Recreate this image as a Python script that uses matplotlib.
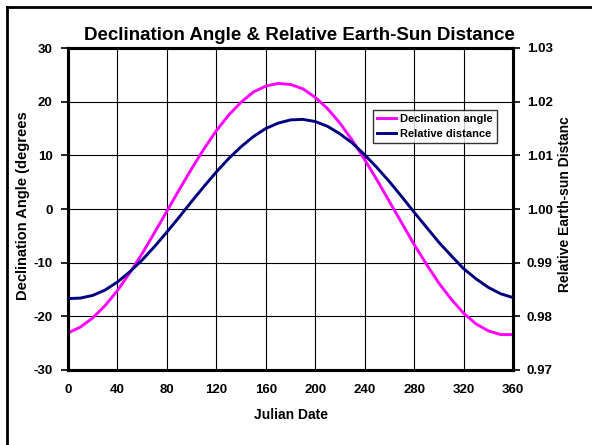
import matplotlib
matplotlib.use("Agg")
import matplotlib.pyplot as plt
from matplotlib.lines import Line2D

plt.rcParams['font.family'] = ['Liberation Sans', 'DejaVu Sans']
plt.rcParams['font.weight'] = 'bold'
plt.rcParams['axes.unicode_minus'] = False

julian_date = [0, 10, 20, 30, 40, 50, 60, 70, 80, 90, 100, 110, 120, 130, 140, 150, 160, 170, 180,
               190, 200, 210, 220, 230, 240, 250, 260, 270, 280, 290, 300, 310, 320, 330, 340, 350, 360]
declination = [-23.1, -22.0, -20.3, -18.0, -15.2, -11.9, -8.3, -4.4, -0.4, 3.6, 7.5, 11.2, 14.6, 17.5,
               19.9, 21.8, 22.9, 23.4, 23.2, 22.4, 20.8, 18.7, 16.0, 12.8, 9.2, 5.4, 1.4, -2.6, -6.6,
               -10.3, -13.8, -16.8, -19.4, -21.4, -22.7, -23.4, -23.4]
rel_distance = [0.9833, 0.9834, 0.9839, 0.9849, 0.9864, 0.9883, 0.9905, 0.9930, 0.9957, 0.9985,
                1.0014, 1.0042, 1.0069, 1.0094, 1.0116, 1.0135, 1.0150, 1.0160, 1.0166, 1.0167,
                1.0163, 1.0154, 1.0140, 1.0123, 1.0101, 1.0077, 1.0051, 1.0023, 0.9994, 0.9966,
                0.9938, 0.9913, 0.9889, 0.9870, 0.9854, 0.9842, 0.9835]

x_ticks = [0, 40, 80, 120, 160, 200, 240, 280, 320, 360]
left_ticks = [-30, -20, -10, 0, 10, 20, 30]
right_ticks = [0.97, 0.98, 0.99, 1.00, 1.01, 1.02, 1.03]

W, H = 592, 445
fig = plt.figure(figsize=(W / 100, H / 100), dpi=100)
ax = fig.add_axes([68 / W, 1 - 370 / H, (513 - 68) / W, (370 - 48) / H])
ax2 = ax.twinx()

magenta = '#ff00ff'
navy = '#000080'

ax.plot(julian_date, declination, color=magenta, lw=2.1, solid_capstyle='butt', zorder=3)
ax2.plot(julian_date, rel_distance, color=navy, lw=2.1, solid_capstyle='butt', zorder=3)

ax.set_xlim(0, 360)
ax.set_ylim(-30, 30)
ax2.set_ylim(0.97, 1.03)
ax.set_xticks(x_ticks)
ax.set_yticks(left_ticks)
ax2.set_yticks(right_ticks)
ax2.set_yticklabels([f"{v:.2f}" for v in right_ticks])

ax.grid(True, color='black', lw=0.8)
ax.set_axisbelow(True)

for a in (ax, ax2):
    for s in a.spines.values():
        s.set_linewidth(2.2)
        s.set_color('black')
ax.tick_params(axis='x', length=0, pad=10, labelsize=9.5)
ax.tick_params(axis='y', length=5, width=1.2, direction='out', pad=6, labelsize=9.5)
ax2.tick_params(axis='y', length=5, width=1.2, direction='out', pad=5, labelsize=9.5)
for lab in ax.get_xticklabels() + ax.get_yticklabels() + ax2.get_yticklabels():
    lab.set_fontweight('bold')

ax.set_xlabel('Julian Date', fontsize=10, fontweight='bold', labelpad=9)
fig.text(23 / W, 1 - 206 / H, 'Declination Angle (degrees', rotation=90, ha='center', va='center',
         fontsize=10.5, fontweight='bold')
fig.text(565 / W, 1 - 204 / H, 'Relative Earth-sun Distanc', rotation=90, ha='center', va='center',
         fontsize=10, fontweight='bold')
fig.text(299 / W, 1 - 35 / H, 'Declination Angle & Relative Earth-Sun Distance', ha='center',
         va='center', fontsize=13.5, fontweight='bold')

handles = [Line2D([], [], color=magenta, lw=2.1), Line2D([], [], color=navy, lw=2.1)]
leg = fig.legend(handles, ['Declination angle', 'Relative distance'], loc='upper left',
                 bbox_to_anchor=(373 / W, 1 - 110 / H), frameon=True, fancybox=False,
                 prop={'size': 8, 'weight': 'bold'}, handlelength=1.7, handletextpad=0.4,
                 borderpad=0.35, labelspacing=0.45, borderaxespad=0)
leg.get_frame().set_edgecolor('black')
leg.get_frame().set_linewidth(1.0)

# figure border lines (left and top)
fig.add_artist(Line2D([7 / W, 7 / W], [0, 1 - 7 / H], color='black', lw=2.0, transform=fig.transFigure))
fig.add_artist(Line2D([7 / W, 1], [1 - 7 / H, 1 - 7 / H], color='black', lw=2.0, transform=fig.transFigure))

fig.savefig('out.png', dpi=100)
